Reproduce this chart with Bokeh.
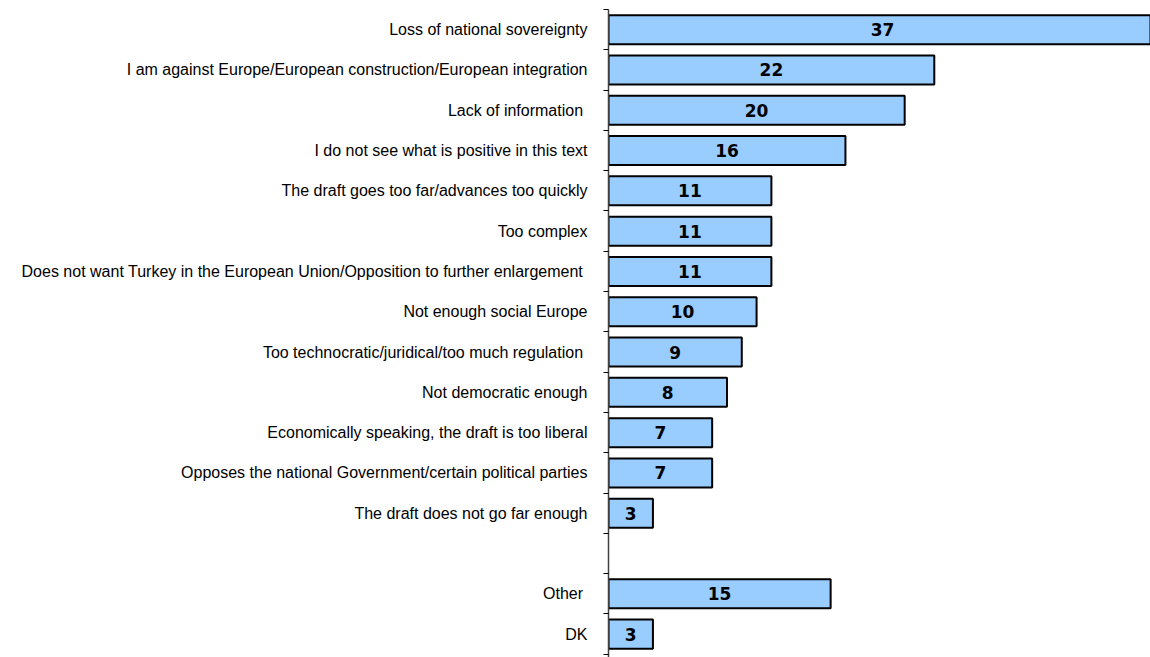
from bokeh.plotting import figure
from bokeh.models import Range1d, FixedTicker, ColumnDataSource
from bokeh.embed import file_html
from bokeh.resources import INLINE
from bokeh.core.properties import value

# ---- data ----
categories = [
    "Loss of national sovereignty",
    "I am against Europe/European construction/European integration",
    "Lack of information ",
    "I do not see what is positive in this text",
    "The draft goes too far/advances too quickly",
    "Too complex",
    "Does not want Turkey in the European Union/Opposition to further enlargement ",
    "Not enough social Europe",
    "Too technocratic/juridical/too much regulation ",
    "Not democratic enough",
    "Economically speaking, the draft is too liberal",
    "Opposes the national Government/certain political parties",
    "The draft does not go far enough",
]
values = [37, 22, 20, 16, 11, 11, 11, 10, 9, 8, 7, 7, 3]
extra_categories = ["Other ", "DK"]
extra_values = [15, 3]

# slot layout: main categories, one empty slot, then extras
all_labels = categories + [""] + extra_categories
n_slots = len(all_labels)
bar_values = values + extra_values
bar_slots = list(range(len(categories))) + [len(categories) + 1 + i for i in range(len(extra_categories))]
centers = [s + 0.5 for s in bar_slots]

src = ColumnDataSource(dict(
    y=centers,
    right=bar_values,
    mid=[v / 2 for v in bar_values],
    txt=[str(v) for v in bar_values],
))

p = figure(
    width=1150, height=657,
    output_backend="svg", toolbar_location=None,
    x_range=Range1d(0, 36.6), y_range=Range1d(n_slots + 0.08, 0),
    min_border_left=608, min_border_right=0, min_border_top=9, min_border_bottom=0,
)
p.outline_line_color = None
p.xgrid.visible = False
p.ygrid.visible = False
p.xaxis.visible = False

p.hbar(y="y", left=0, right="right", height=0.72, source=src,
       fill_color="#99CCFF", line_color="black", line_width=2)

p.text(x="mid", y="y", text="txt", source=src,
       text_align="center", text_baseline="middle",
       text_font=value("DejaVu Sans"), text_font_style="bold",
       text_font_size="17px", text_color="black")

ya = p.yaxis[0]
slot_centers = [i + 0.5 for i in range(n_slots)]
ya.ticker = FixedTicker(ticks=slot_centers, minor_ticks=list(range(n_slots + 1)))
ya.major_label_overrides = {c: lab for c, lab in zip(slot_centers, all_labels)}
ya.major_tick_line_color = None
ya.major_tick_out = 0
ya.major_tick_in = 0
ya.minor_tick_line_color = "black"
ya.minor_tick_out = 5
ya.minor_tick_in = 0
ya.axis_line_color = "#404040"
ya.axis_line_width = 1.5
ya.major_label_standoff = 16
ya.major_label_text_font = "Liberation Sans"
ya.major_label_text_font_size = "16px"
ya.major_label_text_color = "black"

open("out.html", "w").write(file_html(p, INLINE))
